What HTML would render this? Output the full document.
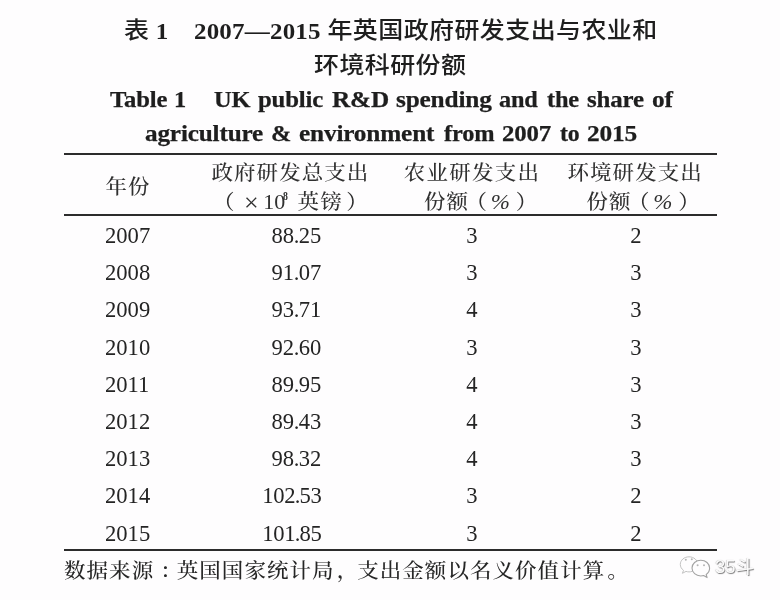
<!DOCTYPE html>
<html lang="zh-CN">
<head>
<meta charset="utf-8">
<title>表 1 2007—2015 年英国政府研发支出与农业和环境科研份额</title>
<style>
html,body{margin:0;padding:0;}
body{width:780px;height:600px;overflow:hidden;background:#fefdfe;position:relative;color:#262626;
  font-family:"Liberation Serif","Noto Serif CJK SC",serif;}
.t{position:absolute;white-space:nowrap;line-height:1;margin:0;}
.t,.en-title{filter:blur(.35px);}
.c{transform:translateX(-50%);}
.r{transform:translateX(-100%);}
.zh-title{font-family:"Liberation Serif","Noto Sans CJK SC",sans-serif;font-weight:500;font-size:25px;letter-spacing:0.4px;color:#1e1e1e;transform:scaleY(.92);}
.zh-title .n{display:inline-block;white-space:pre;letter-spacing:0.2px;font-size:25px;font-weight:bold;transform:scaleY(1.035);}
.en-title{position:absolute;left:0;width:780px;height:25px;margin:0;white-space:nowrap;line-height:1;font-family:"Liberation Serif",serif;font-weight:bold;font-size:22.4px;color:#1e1e1e;letter-spacing:-0.15px;-webkit-text-stroke:0.25px #1e1e1e;}
.en-title span{position:absolute;top:0;transform-origin:0 0;}
.rule{position:absolute;left:64px;width:653px;height:1.35px;margin-top:.35px;background:#2c2c2c;}
.h{font-size:21.5px;line-height:22px;letter-spacing:1.05px;color:#303030;font-weight:500;transform:scaleY(.95);}
.h span,.h sup{display:inline-block;letter-spacing:0;line-height:0;}
.h .pl{margin-left:-7px;}
.h .x{font-size:26px;margin-left:9.5px;vertical-align:-1.5px;font-weight:normal;}
.h .num{margin-left:4.5px;font-size:22px;font-weight:normal;}
.h sup{font-size:13.5px;line-height:0;vertical-align:8.6px;margin-left:-2.2px;margin-right:-0.8px;font-weight:bold;transform:scaleX(.72);transform-origin:0 50%;}
.h .zh2{margin-left:8.5px;letter-spacing:1.2px;}
.h .pr{margin-left:3.4px;}
.h .pl2{margin-left:-3.5px;}
.h .pc{font-style:italic;font-size:23px;margin-left:3.5px;font-weight:normal;}
.h .pr2{margin-left:6px;}
.d{font-size:22.6px;color:#242424;letter-spacing:0;}
.d .p{margin:0 -0.5px;}
.d.w{letter-spacing:-0.35px;}
.f{font-size:21.5px;letter-spacing:1.05px;color:#262626;font-weight:500;transform:scaleY(.95);}
.f span{position:relative;}
.wm{font-family:"Liberation Sans","Noto Sans CJK SC",sans-serif;font-size:18.5px;color:#fbfbfb;text-shadow:.8px .8px .9px rgba(40,40,40,.6),-.5px -.5px .9px rgba(90,90,90,.35);}
.wmi{filter:blur(.45px);}
</style>
</head>
<body>
<div class="caption">
<div class="t zh-title" style="left:124px;top:18px;">表<span class="n"> 1</span>　<span class="n">2007—2015</span> 年英国政府研发支出与农业和</div>
<div class="t zh-title" style="left:314px;top:53px;">环境科研份额</div>
<!--EN-->
<div class="en-title" style="top:89px;"><span style="left:109.64px;transform:scaleX(1.101);">Table</span> <span style="left:173.65px;transform:scaleX(1.090);">1</span>　<span style="left:214.20px;transform:scaleX(1.090);">UK</span> <span style="left:258.28px;transform:scaleX(1.106);">public</span> <span style="left:331.51px;transform:scaleX(1.127);">R&amp;D</span> <span style="left:395.94px;transform:scaleX(1.129);">spending</span> <span style="left:499.38px;transform:scaleX(1.085);">and</span> <span style="left:547.30px;transform:scaleX(1.090);">the</span> <span style="left:587.34px;transform:scaleX(1.111);">share</span> <span style="left:651.87px;transform:scaleX(1.131);">of</span></div>
<div class="en-title" style="top:123px;"><span style="left:144.94px;transform:scaleX(1.126);">agriculture</span> <span style="left:271.22px;transform:scaleX(1.090);">&amp;</span> <span style="left:299.01px;transform:scaleX(1.129);">environment</span> <span style="left:443.50px;transform:scaleX(1.090);">from</span> <span style="left:502.09px;transform:scaleX(1.109);">2007</span> <span style="left:560.13px;transform:scaleX(1.062);">to</span> <span style="left:586.55px;transform:scaleX(1.134);">2015</span></div>
<!--/EN-->
</div>

<div class="table" role="table">
<div class="rule" style="top:153px;"></div>
<div class="rule" style="top:214px;"></div>
<div class="rule" style="top:549px;"></div>

<div class="row head" role="row">
<div class="t h" style="left:105.5px;top:176px;">年份</div>
<div class="t h" style="left:211.5px;top:162px;">政府研发总支出</div>
<div class="t h" style="left:220px;top:191px;"><span class="pl">（</span><span class="x">×</span><span class="num">10</span><sup>8</sup><span class="zh2">英镑</span><span class="pr">）</span></div>
<div class="t h" style="left:403.8px;top:162px;letter-spacing:1.25px;">农业研发支出</div>
<div class="t h" style="left:424px;top:191px;">份额<span class="pl2">（</span><span class="pc">%</span><span class="pr2">）</span></div>
<div class="t h" style="left:567.5px;top:162px;">环境研发支出</div>
<div class="t h" style="left:586.5px;top:191px;">份额<span class="pl2">（</span><span class="pc">%</span><span class="pr2">）</span></div>
</div>
<div class="row" role="row"><div class="t d" style="left:105px;top:225px;">2007</div><div class="t d r" style="left:321.4px;top:225px;">88<span class="p">.</span>25</div><div class="t d c" style="left:472px;top:225px;">3</div><div class="t d c" style="left:636px;top:225px;">2</div></div>
<div class="row" role="row"><div class="t d" style="left:105px;top:262px;">2008</div><div class="t d r" style="left:321.4px;top:262px;">91<span class="p">.</span>07</div><div class="t d c" style="left:472px;top:262px;">3</div><div class="t d c" style="left:636px;top:262px;">3</div></div>
<div class="row" role="row"><div class="t d" style="left:105px;top:299px;">2009</div><div class="t d r" style="left:321.4px;top:299px;">93<span class="p">.</span>71</div><div class="t d c" style="left:472px;top:299px;">4</div><div class="t d c" style="left:636px;top:299px;">3</div></div>
<div class="row" role="row"><div class="t d" style="left:105px;top:337px;">2010</div><div class="t d r" style="left:321.4px;top:337px;">92<span class="p">.</span>60</div><div class="t d c" style="left:472px;top:337px;">3</div><div class="t d c" style="left:636px;top:337px;">3</div></div>
<div class="row" role="row"><div class="t d" style="left:105px;top:374px;">2011</div><div class="t d r" style="left:321.4px;top:374px;">89<span class="p">.</span>95</div><div class="t d c" style="left:472px;top:374px;">4</div><div class="t d c" style="left:636px;top:374px;">3</div></div>
<div class="row" role="row"><div class="t d" style="left:105px;top:411px;">2012</div><div class="t d r" style="left:321.4px;top:411px;">89<span class="p">.</span>43</div><div class="t d c" style="left:472px;top:411px;">4</div><div class="t d c" style="left:636px;top:411px;">3</div></div>
<div class="row" role="row"><div class="t d" style="left:105px;top:448px;">2013</div><div class="t d r" style="left:321.4px;top:448px;">98<span class="p">.</span>32</div><div class="t d c" style="left:472px;top:448px;">4</div><div class="t d c" style="left:636px;top:448px;">3</div></div>
<div class="row" role="row"><div class="t d" style="left:105px;top:485px;">2014</div><div class="t d r w" style="left:321.4px;top:485px;">102<span class="p">.</span>53</div><div class="t d c" style="left:472px;top:485px;">3</div><div class="t d c" style="left:636px;top:485px;">2</div></div>
<div class="row" role="row"><div class="t d" style="left:105px;top:523px;">2015</div><div class="t d r w" style="left:321.4px;top:523px;">101<span class="p">.</span>85</div><div class="t d c" style="left:472px;top:523px;">3</div><div class="t d c" style="left:636px;top:523px;">2</div></div>

</div>
<div class="t f" style="left:64px;top:561px;">数据来源<span style="left:6px;">：</span>英国国家统计局<span style="left:2px;">，</span>支出金额以名义价值计算<span style="left:2px;">。</span></div>
<svg class="wmi" width="36" height="28" viewBox="0 0 36 28" style="position:absolute;left:677px;top:553px;" aria-hidden="true">
  <g fill="#fefdfe" stroke-linejoin="round">
    <path stroke="#c2c2c2" stroke-width="1" d="M12 3.800c-4.800 0-8.700 3.400-8.700 7.600 0 2.400 1.200 4.500 3.200 5.900l-1.100 3 3.600-1.900c.9 .3 2 .5 3 .5 4.800 0 8.700-3.400 8.700-7.600S16.800 3.800 12 3.800z"/>
    <path stroke="#a3a3a3" stroke-width="1.100" d="M23.800 7.200c-4.900 0-8.800 3.500-8.800 7.900s3.900 7.900 8.800 7.900c1 0 1.900-.1 2.800-.4l3.500 2-.9-3.100c2.100-1.400 3.400-3.800 3.400-6.400 0-4.400-3.900-7.900-8.800-7.900z"/>
  </g>
  <g fill="#b5b5b5">
    <circle cx="8.800" cy="6.800" r="1"/><circle cx="14.800" cy="6.200" r="1"/>
    <circle cx="20.600" cy="12.200" r="1"/><circle cx="27" cy="12.200" r="1"/>
  </g>
</svg>
<div class="t wm" style="left:715px;top:557.5px;">35斗</div>
</body>
</html>
